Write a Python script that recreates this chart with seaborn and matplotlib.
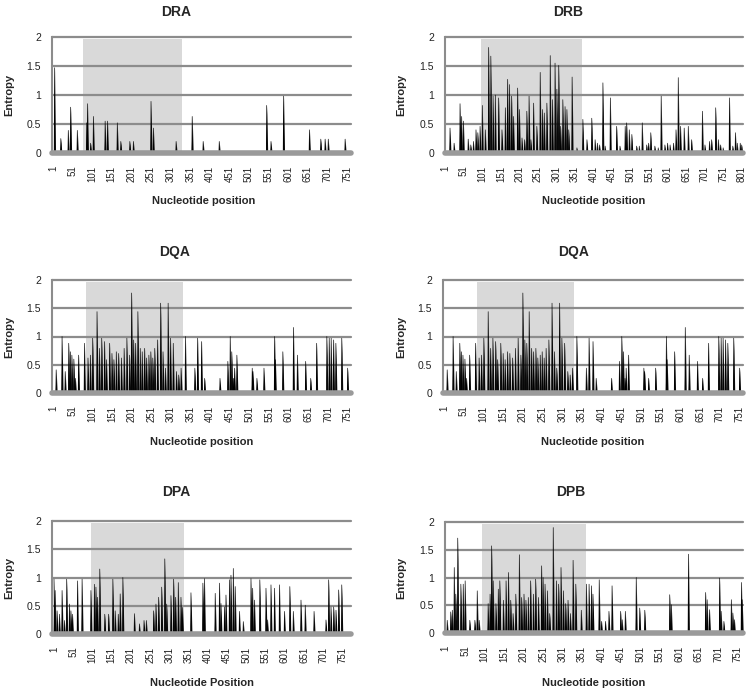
import numpy as np
import pandas as pd
import matplotlib
matplotlib.use("Agg")
import matplotlib.pyplot as plt
import seaborn as sns

# ---------------- data (spike positions / entropy heights, zero elsewhere) ----------------
DRA_len = 761
DRA_pos = [5, 21, 40, 46, 63, 87, 89, 97, 104, 134, 140, 165, 174, 197, 206, 251, 257, 315,
           356, 384, 425, 546, 557, 589, 655, 684, 695, 703, 746]
DRA_h = [1.47, 0.25, 0.39, 0.79, 0.39, 0.52, 0.85, 0.17, 0.63, 0.55, 0.55, 0.52, 0.2, 0.2,
         0.2, 0.89, 0.43, 0.2, 0.63, 0.2, 0.2, 0.82, 0.2, 0.98, 0.4, 0.24, 0.24, 0.24, 0.24]

DRB_len = 803
DRB_pos = [14, 25, 41, 45, 50, 63, 70, 77, 84, 89, 95, 101, 109, 118, 124, 130, 136, 145, 154,
           163, 169, 174, 180, 185, 196, 201, 208, 215, 221, 227, 232, 239, 248, 257, 263, 268,
           275, 284, 290, 297, 302, 307, 312, 318, 324, 329, 334, 343, 356, 372, 383, 396, 405,
           411, 417, 426, 432, 446, 463, 472, 486, 490, 497, 504, 517, 524, 532, 544, 549, 555,
           566, 575, 583, 593, 600, 607, 616, 623, 629, 635, 645, 656, 665, 694, 701, 713, 719,
           730, 737, 743, 750, 767, 776, 783, 788, 796, 800]
DRB_h = [0.43, 0.17, 0.85, 0.63, 0.55, 0.24, 0.14, 0.2, 0.4, 0.35, 0.46, 0.82, 0.4, 1.82, 1.67,
         0.98, 1.0, 0.95, 0.4, 0.78, 1.27, 1.18, 0.98, 0.63, 1.12, 0.75, 0.26, 0.23, 0.72, 0.98,
         0.23, 0.86, 0.46, 1.39, 0.75, 0.69, 0.86, 1.68, 0.92, 1.55, 1.1, 1.51, 0.46, 0.92, 0.8,
         0.75, 0.4, 1.31, 0.09, 0.58, 0.23, 0.6, 0.23, 0.17, 0.14, 1.21, 0.12, 0.95, 0.46, 0.12,
         0.46, 0.52, 0.4, 0.32, 0.12, 0.12, 0.52, 0.14, 0.17, 0.35, 0.12, 0.09, 0.98, 0.14, 0.17,
         0.14, 0.17, 0.4, 1.3, 0.46, 0.43, 0.46, 0.23, 0.72, 0.14, 0.2, 0.23, 0.78, 0.23, 0.14,
         0.09, 0.95, 0.12, 0.35, 0.17, 0.17, 0.14]

DQA_len = 759
DQA_pos = [9, 24, 32, 41, 45, 49, 54, 58, 66, 81, 90, 96, 102, 113, 119, 125, 132, 137, 145,
           151, 156, 162, 168, 175, 182, 189, 196, 201, 206, 211, 217, 223, 228, 234, 239, 245,
           250, 255, 260, 267, 275, 281, 287, 294, 300, 307, 315, 321, 327, 338, 362, 369, 379,
           387, 426, 446, 452, 456, 460, 463, 469, 508, 510, 520, 538, 565, 567, 586, 613, 623,
           644, 657, 672, 698, 704, 709, 715, 721, 736, 751]
DQA_h = [0.41, 1.0, 0.38, 0.88, 0.73, 0.67, 0.6, 0.26, 0.67, 0.88, 0.62, 0.67, 0.97, 1.44, 0.79,
         0.97, 0.91, 0.59, 0.88, 0.7, 0.59, 0.73, 0.7, 0.62, 0.79, 0.97, 0.67, 1.77, 0.94, 0.88,
         1.44, 0.79, 0.73, 0.79, 0.62, 0.67, 0.73, 0.62, 0.79, 0.94, 1.59, 0.73, 0.44, 1.59, 0.97,
         0.88, 0.38, 0.32, 0.44, 1.0, 0.44, 0.97, 0.91, 0.26, 0.26, 0.56, 1.0, 0.73, 0.26, 0.44,
         0.67, 0.44, 0.38, 0.26, 0.44, 1.0, 0.59, 0.73, 1.16, 0.67, 0.56, 0.26, 0.88, 1.0, 0.97,
         0.97, 0.94, 0.88, 0.97, 0.44]

DPA_len = 773
DPA_pos = [1, 4, 9, 15, 22, 28, 34, 41, 45, 49, 62, 74, 97, 106, 110, 114, 120, 133, 143, 154,
           160, 168, 173, 180, 210, 223, 235, 241, 260, 266, 273, 281, 289, 294, 305, 312, 317,
           324, 331, 335, 357, 388, 392, 420, 431, 435, 444, 448, 457, 461, 467, 472, 483, 493,
           513, 517, 522, 536, 552, 556, 565, 574, 587, 600, 614, 623, 643, 654, 677, 708, 715,
           721, 728, 734, 741, 749]
DPA_h = [0.97, 0.77, 0.41, 0.35, 0.77, 0.24, 0.97, 0.53, 0.41, 0.35, 0.94, 0.97, 0.77, 0.88,
         0.83, 0.65, 1.15, 0.35, 0.35, 0.97, 0.41, 0.35, 0.71, 1.0, 0.36, 0.18, 0.24, 0.24, 0.41,
         0.53, 0.65, 0.83, 1.33, 0.53, 0.68, 0.97, 0.65, 0.91, 0.65, 0.47, 0.73, 0.9, 0.98, 0.72,
         0.9, 0.54, 0.48, 0.69, 0.96, 1.04, 1.16, 0.84, 0.4, 0.22, 0.98, 0.81, 0.6, 0.96, 0.81,
         0.25, 0.87, 0.81, 0.87, 0.4, 0.84, 0.4, 0.6, 0.51, 0.4, 0.25, 0.96, 0.48, 0.48, 0.42,
         0.78, 0.87]

DPB_len = 764
DPB_pos = [5, 14, 18, 23, 27, 32, 40, 46, 51, 63, 76, 82, 87, 110, 115, 119, 123, 130, 136, 140,
           149, 156, 162, 168, 174, 181, 190, 196, 202, 207, 213, 219, 226, 232, 239, 247, 251,
           256, 262, 268, 277, 285, 291, 297, 303, 309, 315, 321, 328, 335, 349, 362, 369, 375,
           379, 395, 401, 411, 420, 428, 450, 454, 462, 490, 499, 512, 576, 580, 624, 668, 672,
           678, 704, 708, 715, 734, 738, 742, 760, 762]
DPB_h = [0.23, 0.38, 0.41, 1.18, 0.7, 1.71, 0.88, 0.88, 0.94, 0.23, 0.23, 0.76, 0.23, 0.53, 0.7,
         1.57, 0.94, 0.53, 0.79, 0.94, 0.59, 0.94, 1.09, 0.59, 0.35, 0.7, 1.41, 0.64, 0.7, 0.59,
         0.64, 0.94, 0.7, 0.97, 0.64, 1.21, 1.0, 0.88, 0.76, 0.35, 1.9, 0.94, 0.88, 1.18, 0.76,
         0.53, 0.59, 0.35, 1.31, 0.88, 0.41, 0.88, 0.88, 0.85, 0.7, 0.96, 0.21, 0.21, 0.39, 0.85,
         0.39, 0.24, 0.39, 1.0, 0.45, 0.41, 0.69, 0.51, 1.42, 0.73, 0.6, 0.42, 0.99, 0.39, 0.21,
         0.6, 0.36, 0.24, 0.91, 0.6]

titles = ["DRA", "DRB", "DQA", "DQA", "DPA", "DPB"]
xlabels = ["Nucleotide position", "Nucleotide position", "Nucleotide position",
           "Nucleotide position", "Nucleotide Position", "Nucleotide position"]
shade_ranges = [(78, 329), (98, 371), (84, 332), (84, 332), (98, 340), (95, 360)]
tick_ends = [751, 801, 751, 751, 751, 751]

series = [(DRA_len, DRA_pos, DRA_h), (DRB_len, DRB_pos, DRB_h), (DQA_len, DQA_pos, DQA_h),
          (DQA_len, DQA_pos, DQA_h), (DPA_len, DPA_pos, DPA_h), (DPB_len, DPB_pos, DPB_h)]

# ---------------- layout (pixels) ----------------
W, H = 751, 693
boxes = [(52, 351, 37, 153), (445, 743, 37, 153),
         (52, 351, 280, 393), (443, 743, 280, 393),
         (52, 351, 521, 634), (445, 743, 522, 633)]
xlims = [(-1.5, 761), (0.5, 803.5), (-1.6, 759.5), (-1.6, 759.5), (-4.2, 773), (-0.7, 764)]
title_xy = [(176, 12), (568, 12), (175, 252), (574, 252), (176, 492), (571, 492)]
xlabel_xy = [(204, 201), (594, 201), (202, 442), (593, 442), (202, 683), (594, 683)]
SPIKE_HALF = 2.6   # half base width of each area spike, in position units (style)

sns.set_theme(style="white")
plt.rcParams["font.family"] = ["Liberation Sans", "DejaVu Sans"]

fig = plt.figure(figsize=(W / 100, H / 100), dpi=100)
fig.patch.set_facecolor("white")

grid_c = "#8c8c8c"
for i in range(6):
    l, r, t, b = boxes[i]
    ax = fig.add_axes([l / W, 1 - b / H, (r - l) / W, (b - t) / H])
    n, pos, hts = series[i]
    vals = np.zeros(n)
    vals[np.array(pos) - 1] = hts
    df = pd.DataFrame({"Position": np.arange(1, n + 1), "Entropy": vals})

    s0, s1 = shade_ranges[i]
    ax.axvspan(s0, s1, ymin=0, ymax=0.985, color="#d9d9d9", lw=0, zorder=0)
    for yv in [0.5, 1.0, 1.5, 2.0]:
        ax.axhline(yv, color=grid_c, lw=1.6, zorder=1, clip_on=False)

    # area spikes: each nonzero value drawn as a narrow filled peak
    for p, h in zip(pos, hts):
        ax.fill_between([p - SPIKE_HALF, p, p + SPIKE_HALF], [0, h, 0], 0,
                        color="#111111", lw=0, zorder=2)
    sns.lineplot(data=df, x="Position", y="Entropy", ax=ax, color="black", lw=0.45, zorder=2)
    ax.axhline(0, color="#9a9a9a", lw=4, zorder=3, clip_on=False)

    ax.set_xlim(*xlims[i])
    ax.set_ylim(0, 2)
    ax.set_facecolor("none")
    for sp in ["top", "right", "bottom"]:
        ax.spines[sp].set_visible(False)
    ax.spines["left"].set_color(grid_c)
    ax.spines["left"].set_linewidth(1.5)

    ticks = list(range(1, tick_ends[i] + 1, 50))
    ax.set_xticks(ticks)
    ax.set_xticklabels([str(v) for v in ticks], rotation=90, fontsize=7, color="#222222")
    ax.set_yticks([0, 0.5, 1, 1.5, 2])
    ax.set_yticklabels(["0", "0.5", "1", "1.5", "2"], fontsize=7.5, color="#222222")
    ax.tick_params(axis="x", length=0, pad=9)
    ax.tick_params(axis="y", length=0, pad=8)
    ax.set_xlabel("")
    ax.set_ylabel("")

    tx, ty = title_xy[i]
    fig.text(tx / W, 1 - ty / H, titles[i], ha="center", va="center",
             fontsize=10, fontweight="bold")
    xx, xy = xlabel_xy[i]
    fig.text(xx / W, 1 - xy / H, xlabels[i], ha="center", va="center",
             fontsize=8, fontweight="bold")
    ex = 9 if l < 200 else 401
    fig.text(ex / W, 1 - ((t + b) / 2) / H, "Entropy", ha="center", va="center",
             rotation=90, fontsize=8, fontweight="bold")

fig.savefig("out.png", dpi=100, facecolor="white")
